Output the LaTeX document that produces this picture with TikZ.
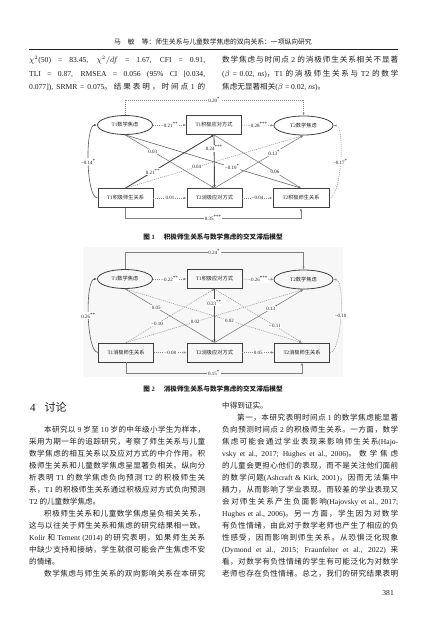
\documentclass[tikz,border=0pt]{standalone}
\usepackage{fontspec}
\setmainfont{Liberation Serif}
\newfontfamily\cjkf{Noto Sans CJK SC}
\newfontfamily\latf{Liberation Serif}
\usetikzlibrary{shapes.geometric,arrows.meta}
\XeTeXinterchartokenstate=1
\newXeTeXintercharclass\cjkcls
\newcount\cc
\def\setcls#1#2{\cc=#1\relax\loop\XeTeXcharclass\cc=\cjkcls\relax\ifnum\cc<#2\relax\advance\cc by 1\relax\repeat}
\setcls{"4E00}{"9FFF}
\setcls{"3000}{"303F}
\setcls{"FF00}{"FFEF}
\XeTeXinterchartoks 0 \cjkcls = {\cjkf}
\XeTeXinterchartoks 4095 \cjkcls = {\cjkf}
\XeTeXinterchartoks \cjkcls 0 = {\latf}
\XeTeXinterchartoks \cjkcls 4095 = {\latf}
\XeTeXinterchartoks 1 \cjkcls = {\cjkf}
\XeTeXinterchartoks 2 \cjkcls = {\cjkf}
\XeTeXinterchartoks 3 \cjkcls = {\cjkf}
\XeTeXinterchartoks \cjkcls 1 = {\latf}
\XeTeXinterchartoks \cjkcls 2 = {\latf}
\XeTeXinterchartoks \cjkcls 3 = {\latf}
\XeTeXinterchartoks \cjkcls \cjkcls = {\cjkf\hskip 0pt plus 2pt\relax}
\definecolor{ink}{gray}{0.12}
\def\bodyf{\fontsize{7.6}{9}\selectfont}
\newcounter{ln}
\newcommand\jline[3]{\stepcounter{ln}\node[txt,anchor=base west] (ln\arabic{ln}) at (#1,#2) {\makebox[176pt][s]{#3}};}
\newcommand\pline[3]{\stepcounter{ln}\node[txt,anchor=base west] (ln\arabic{ln}) at (#1,#2) {#3};}
\newcommand\ind{\hspace*{15pt}}
\newcommand\sps[1]{\textsuperscript{#1}}
\begin{document}
\begin{tikzpicture}[x=1pt,y=-1pt,
  txt/.style={inner sep=0pt,text=ink,font=\bodyf},
  ell/.style={ellipse,draw=black!75,line width=0.8pt,minimum width=55pt,minimum height=19pt,inner sep=0pt,text=ink,font=\fontsize{5.2}{6}\selectfont},
  bx/.style={rectangle,draw=black!75,line width=0.8pt,minimum width=55pt,minimum height=19pt,inner sep=0pt,text=ink,font=\fontsize{5.2}{6}\selectfont},
  tip/.style={-{Latex[length=3pt,width=2.4pt]}},
  dotl/.style={tip,draw=black!45,line width=0.5pt,dash pattern=on 1pt off 1pt},
  soll/.style={tip,draw=black!50,line width=0.6pt},
  strl/.style={tip,draw=black!72,line width=0.9pt},
  lab/.style={fill=white,inner sep=0.7pt,text=ink,font=\fontsize{5}{6}\selectfont},
  capf/.style={inner sep=0pt,text=ink,font=\fontsize{6.6}{8}\selectfont\bfseries}
]
\useasboundingbox[fill=white] (0,0) rectangle (427,624);

% ---------- running head ----------
\node[txt,font=\fontsize{6.8}{8}\selectfont] (hdr) at (213,42) {马\hspace{7pt}敏\hspace{7pt}等：师生关系与儿童数学焦虑的双向关系：一项纵向研究};
\draw[line width=0.5pt,ink] (29,49.5) -- (398,49.5);

% ---------- top text ----------
\jline{29}{62.5}{$\chi^2$(50) = 83.45, $\chi^2/df$ = 1.67, CFI = 0.91,}
\jline{29}{76}{TLI = 0.87, RMSEA = 0.056 (95\% CI [0.034,}
\jline{29}{89.5}{0.077]), SRMR = 0.075。结果表明，时间点 1 的}
\jline{222}{62.5}{数学焦虑与时间点 2 的消极师生关系相关不显著}
\jline{222}{76}{($\beta$ = 0.02, \textit{ns})，T1 的消极师生关系与 T2 的数学}
\pline{222}{89.5}{焦虑无显著相关($\beta$ = 0.02, \textit{ns})。}

% ---------- Figure 1 ----------
\node[ell] (A1) at (125,125) {T1数学焦虑};
\node[bx]  (B1) at (214,125) {T1积极应对方式};
\node[ell,minimum width=59pt] (C1) at (303.5,125.5) {T2数学焦虑};
\node[bx]  (D1) at (125.5,198) {T1积极师生关系};
\node[bx]  (E1) at (214.5,198) {T2消极应对方式};
\node[bx,minimum width=56pt] (F1) at (301,198) {T2积极师生关系};

\draw[dotl] (A1.north) -- (A1.north |- 0,100) -- node[lab] (l1a) {0.20\sps{*}} (C1.north |- 0,100) -- (C1.north);
\draw[soll] (D1.south) -- (D1.south |- 0,218) -- node[lab] (l1b) {0.35\sps{***}} (F1.south |- 0,218) -- (F1.south);
\draw[dotl] (A1) -- node[lab] (l1c) {−0.21\sps{**}} (B1);
\draw[dotl] (B1) -- node[lab] (l1d) {−0.28\sps{***}} (C1);
\draw[dotl] (D1) -- node[lab] (l1e) {0.01} (E1);
\draw[dotl] (E1) -- node[lab] (l1f) {−0.04} (F1);
\draw[soll] (A1.south) -- node[lab,pos=0.31] (l1g) {0.03} (E1.north);
\draw[soll,draw=black!60] (A1.south) -- node[lab,pos=0.61] (l1h) {−0.19\sps{*}} (F1.north);
\draw[strl] (D1.north) -- node[lab,pos=0.31] (l1i) {0.21\sps{**}} (B1.south);
\draw[dotl] (D1.north) -- node[lab,pos=0.40] (l1j) {0.04} (C1.south);
\draw[soll] (E1.north) -- node[lab,pos=0.67] (l1k) {0.13\sps{*}} (C1.south);
\draw[soll] (B1.south) -- node[lab,pos=0.70] (l1l) {0.06} (F1.north);
\draw[strl] (B1.south) -- node[lab,pos=0.25] (l1m) {0.24\sps{***}} (E1.north);
\draw[tip,draw=black!65,line width=0.6pt] (D1.west) to[out=180,in=180,looseness=0.42] node[lab] (l1n) {−0.14\sps{*}} (A1.west);
\draw[dotl] (F1.east) to[out=0,in=0,looseness=0.42] node[lab] (l1o) {−0.17\sps{*}} (C1.east);

\node[capf] (cap1) at (213,236.5) {图 1\hspace{9pt}积极师生关系与数学焦虑的交叉滞后模型};

% ---------- Figure 2 ----------
\fill[black!3] (83,247) rectangle (343,377);
\node[ell] (A2) at (125,279) {T1数学焦虑};
\node[bx]  (B2) at (214.5,279) {T1积极应对方式};
\node[ell,minimum width=59pt] (C2) at (303.5,279.5) {T2数学焦虑};
\node[bx]  (D2) at (126,352.5) {T1消极师生关系};
\node[bx]  (E2) at (214.5,352.5) {T2消极应对方式};
\node[bx]  (F2) at (302,352.5) {T2消极师生关系};

\draw[soll] (A2.north) -- (A2.north |- 0,252) -- node[lab] (l2a) {0.24\sps{*}} (C2.north |- 0,252) -- (C2.north);
\draw[soll] (D2.south) -- (D2.south |- 0,373) -- node[lab] (l2b) {0.15\sps{*}} (F2.south |- 0,373) -- (F2.south);
\draw[dotl] (A2) -- node[lab] (l2c) {−0.22\sps{**}} (B2);
\draw[dotl] (B2) -- node[lab] (l2d) {−0.26\sps{***}} (C2);
\draw[dotl] (D2) -- node[lab] (l2e) {−0.08} (E2);
\draw[dotl] (E2) -- node[lab] (l2f) {0.05} (F2);
\draw[soll] (A2.south) -- node[lab,pos=0.35] (l2g) {0.05} (E2.north);
\draw[dotl] (A2.south) -- node[lab,pos=0.59] (l2h) {0.02} (F2.north);
\draw[dotl] (D2.north) -- node[lab,pos=0.35] (l2i) {−0.10} (B2.south);
\draw[dotl] (D2.north) -- node[lab,pos=0.39] (l2j) {0.02} (C2.south);
\draw[soll] (E2.north) -- node[lab,pos=0.65] (l2k) {0.13\sps{*}} (C2.south);
\draw[dotl] (B2.south) -- node[lab,pos=0.69] (l2l) {−0.11} (F2.north);
\draw[strl] (B2.south) -- node[lab,pos=0.26] (l2m) {0.23\sps{**}} (E2.north);
\draw[tip,draw=black!65,line width=0.6pt] (D2.west) to[out=180,in=180,looseness=0.42] node[lab] (l2n) {0.26\sps{**}} (A2.west);
\draw[dotl] (F2.east) to[out=0,in=0,looseness=0.42] node[lab] (l2o) {−0.10} (C2.east);

\node[capf] (cap2) at (213,388.5) {图 2\hspace{9pt}消极师生关系与数学焦虑的交叉滞后模型};

% ---------- section heading ----------
\node[txt,anchor=base west,font=\fontsize{11}{12}\selectfont] (sec) at (30,411) {4\hspace{9pt}讨论};

% ---------- left column ----------
\jline{29}{432}{\ind 本研究以 9 岁至 10 岁的中年级小学生为样本，}
\jline{29}{444}{采用为期一年的追踪研究，考察了师生关系与儿童}
\jline{29}{456}{数学焦虑的相互关系以及应对方式的中介作用。积}
\jline{29}{468}{极师生关系和儿童数学焦虑呈显著负相关。纵向分}
\jline{29}{480}{析表明 T1 的数学焦虑负向预测 T2 的积极师生关}
\jline{29}{492}{系，T1 的积极师生关系通过积极应对方式负向预测}
\pline{29}{504}{T2 的儿童数学焦虑。}
\jline{29}{516}{\ind 积极师生关系和儿童数学焦虑呈负相关关系，}
\jline{29}{528}{这与以往关于师生关系和焦虑的研究结果相一致。}
\jline{29}{540}{Kolir 和 Tement (2014) 的研究表明，如果师生关系}
\jline{29}{552}{中缺少支持和接纳，学生就很可能会产生焦虑不安}
\pline{29}{564}{的情绪。}
\jline{29}{576}{\ind 数学焦虑与师生关系的双向影响关系在本研究}

% ---------- right column ----------
\pline{222}{408}{中得到证实。}
\jline{222}{420}{\ind 第一，本研究表明时间点 1 的数学焦虑能显著}
\jline{222}{432}{负向预测时间点 2 的积极师生关系。一方面，数学}
\jline{222}{444}{焦虑可能会通过学业表现来影响师生关系(Hajo-}
\jline{222}{456}{vsky et al., 2017; Hughes et al., 2006)。数学焦虑}
\jline{222}{468}{的儿童会更担心他们的表现，而不是关注他们面前}
\jline{222}{480}{的数学问题(Ashcraft \& Kirk, 2001)，因而无法集中}
\jline{222}{492}{精力，从而影响了学业表现。而较差的学业表现又}
\jline{222}{504}{会对师生关系产生负面影响(Hajovsky et al., 2017;}
\jline{222}{516}{Hughes et al., 2006)。另一方面，学生因为对数学}
\jline{222}{528}{有负性情绪，由此对于数学老师也产生了相应的负}
\jline{222}{540}{性感受，因而影响到师生关系。从恐惧泛化现象}
\jline{222}{552}{(Dymond et al., 2015; Fraunfelter et al., 2022) 来}
\jline{222}{564}{看，对数学有负性情绪的学生有可能泛化为对数学}
\jline{222}{576}{老师也存在负性情绪。总之，我们的研究结果表明}

\node[txt,anchor=base east] (pg) at (394,595) {381};
\end{tikzpicture}
\end{document}
